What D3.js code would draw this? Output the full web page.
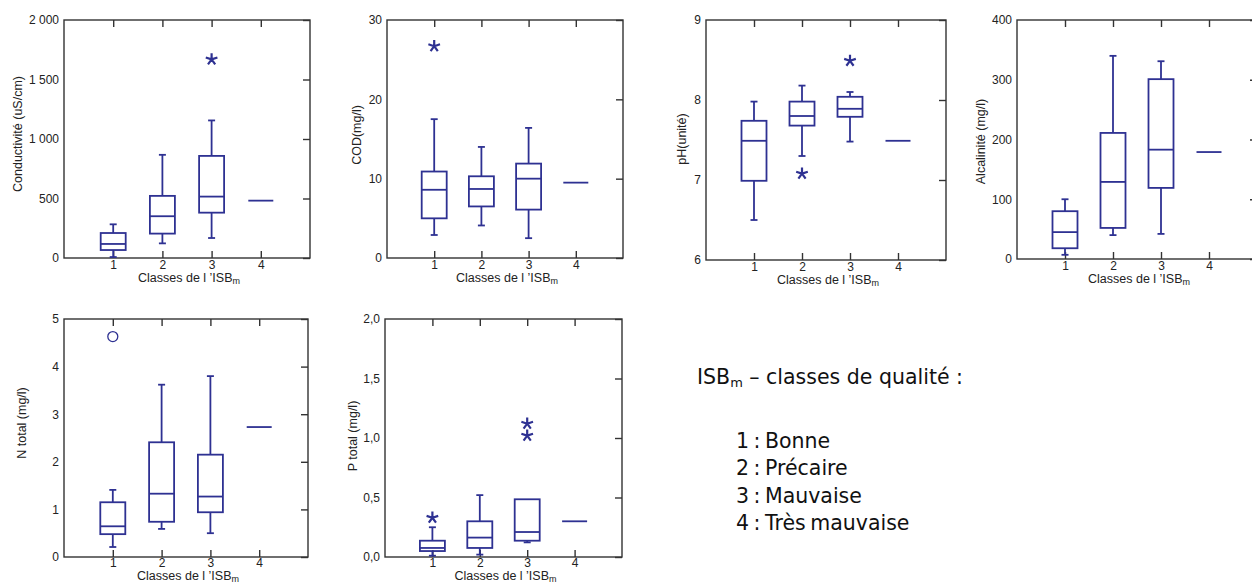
<!DOCTYPE html>
<html><head><meta charset="utf-8">
<script src="https://cdn.jsdelivr.net/npm/d3@7"></script>
<style>body{margin:0;background:#fff}svg{display:block}</style>
</head><body><svg id="c" width="1252" height="584"></svg>
<script>
// ---------- DATA ----------
const classes = [1, 2, 3, 4];
const classLabels = ["1", "2", "3", "4"];
// [min, Q1, median, Q3, max] per class
const conductivite = [[8, 67, 118, 210, 283], [123, 205, 351, 522, 867], [168, 381, 516, 858, 1156], [482, 482, 482, 482, 482]];
const conductiviteStars = [[], [], [1669], []];
const condTicks = [0, 500, 1000, 1500, 2000];
const condTickLabels = ["0", "500", "1 000", "1 500", "2 000"];

const cod = [[2.9, 5.0, 8.6, 10.9, 17.5], [4.1, 6.5, 8.7, 10.3, 14.0], [2.5, 6.1, 10.0, 11.9, 16.4], [9.5, 9.5, 9.5, 9.5, 9.5]];
const codStars = [[26.7], [], [], []];
const codTicks = [0, 10, 20, 30];
const codTickLabels = ["0", "10", "20", "30"];

const ph = [[6.5, 6.99, 7.49, 7.74, 7.98], [7.3, 7.68, 7.8, 7.98, 8.18], [7.48, 7.79, 7.89, 8.04, 8.1], [7.49, 7.49, 7.49, 7.49, 7.49]];
const phStars = [[], [7.08], [8.49], []];
const phTicks = [6, 7, 8, 9];
const phTickLabels = ["6", "7", "8", "9"];

const alcalinite = [[7, 18, 45, 80, 100], [40, 52, 129, 211, 340], [42, 119, 183, 301, 331], [179, 179, 179, 179, 179]];
const alcaliniteStars = [[], [], [], []];
const alcTicks = [0, 100, 200, 300, 400];
const alcTickLabels = ["0", "100", "200", "300", "400"];

const ntotal = [[0.21, 0.48, 0.645, 1.15, 1.41], [0.59, 0.74, 1.33, 2.41, 3.62], [0.50, 0.94, 1.27, 2.15, 3.80], [2.73, 2.73, 2.73, 2.73, 2.73]];
const ntotalStars = [[], [], [], []];
const ntotalCircles = [[4.63], [], [], []];
const nTicks = [0, 1, 2, 3, 4, 5];
const nTickLabels = ["0", "1", "2", "3", "4", "5"];

const ptotal = [[0.011, 0.05, 0.076, 0.137, 0.25], [0.02, 0.076, 0.163, 0.30, 0.52], [0.123, 0.137, 0.21, 0.485, 0.485], [0.30, 0.30, 0.30, 0.30, 0.30]];
const ptotalStars = [[0.33], [], [1.02, 1.12], []];
const pTicks = [0, 0.5, 1.0, 1.5, 2.0];
const pTickLabels = ["0,0", "0,5", "1,0", "1,5", "2,0"];

const legendTitle = "classes de qualité :";
const legendItems = ["1 : Bonne", "2 : Précaire", "3 : Mauvaise", "4 : Très mauvaise"];

// ---------- LAYOUT ----------
const BLUE = "#2e3192";
const FRAME = "#333";
const TXT = "#222";
const AXFONT = "'Liberation Sans', Arial, sans-serif";

const panels = [
  {x0: 64, x1: 310, y0: 20, y1: 258, stats: conductivite, stars: conductiviteStars, circles: null, ticks: condTicks, labels: condTickLabels, title: "Conductivité (uS/cm)", tOff: 46, tDy: -5, xt: 24, tp: 2.5},
  {x0: 387, x1: 623, y0: 20, y1: 258, stats: cod, stars: codStars, circles: null, ticks: codTicks, labels: codTickLabels, title: "COD(mg/l)", tOff: 30, tDy: -4, xt: 24, tp: 2.5},
  {x0: 706, x1: 946, y0: 20, y1: 260, stats: ph, stars: phStars, circles: null, ticks: phTicks, labels: phTickLabels, title: "pH(unité)", tOff: 24, tDy: -1, xt: 24, tp: 2},
  {x0: 1017, x1: 1257, y0: 20, y1: 259, stats: alcalinite, stars: alcaliniteStars, circles: null, ticks: alcTicks, labels: alcTickLabels, title: "Alcalinité (mg/l)", tOff: 36, tDy: 2, xt: 24, tp: 2},
  {x0: 64, x1: 308, y0: 319, y1: 557, stats: ntotal, stars: ntotalStars, circles: ntotalCircles, ticks: nTicks, labels: nTickLabels, title: "N total (mg/l)", tOff: 42, tDy: -15, xt: 23, tp: 1.5},
  {x0: 385, x1: 622, y0: 319, y1: 557, stats: ptotal, stars: ptotalStars, circles: null, ticks: pTicks, labels: pTickLabels, title: "P total (mg/l)", tOff: 32, tDy: -2, xt: 23, tp: 1.5}
];

const svg = d3.select("#c");

// five-armed asterisk symbol
const asterisk = {
  draw(ctx, size) {
    const r = Math.sqrt(size) / 2;
    for (let k = 0; k < 5; k++) {
      const a = -Math.PI / 2 + k * 2 * Math.PI / 5;
      ctx.moveTo(0, 0);
      ctx.lineTo(r * Math.cos(a), r * Math.sin(a));
    }
  }
};

function xTitle(g, cx, y) {
  const t = g.append("text").attr("x", cx).attr("y", y).attr("text-anchor", "middle")
    .attr("font-family", AXFONT).attr("font-size", 12.5).attr("fill", TXT);
  t.append("tspan").text("Classes de l ’ISB");
  t.append("tspan").attr("font-size", 9).attr("dy", 2).text("m");
}

panels.forEach(p => {
  const g = svg.append("g");
  const x = d3.scaleLinear().domain([0, 5]).range([p.x0, p.x1]);
  const y = d3.scaleLinear().domain([p.ticks[0], p.ticks[p.ticks.length - 1]]).range([p.y1, p.y0]);
  const bw = 25, cw = 7;

  g.append("rect").attr("x", p.x0).attr("y", p.y0).attr("width", p.x1 - p.x0).attr("height", p.y1 - p.y0)
    .attr("fill", "none").attr("stroke", FRAME).attr("stroke-width", 1.4);

  const la = g.append("g").attr("transform", `translate(${p.x0},0)`)
    .call(d3.axisLeft(y).tickValues(p.ticks).tickSize(0).tickPadding(5).tickFormat((d, i) => p.labels[i]));
  const ra = g.append("g").attr("transform", `translate(${p.x1},0)`)
    .call(d3.axisLeft(y).tickValues(p.ticks).tickSize(7).tickFormat(""));
  const ta = g.append("g").attr("transform", `translate(0,${p.y0})`)
    .call(d3.axisBottom(x).tickValues(classes).tickSize(7).tickFormat(""));
  const ba = g.append("g").attr("transform", `translate(0,${p.y1})`)
    .call(d3.axisTop(x).tickValues(classes).tickSize(7).tickFormat(""));
  const bl = g.append("g").attr("transform", `translate(0,${p.y1})`)
    .call(d3.axisBottom(x).tickValues(classes).tickSize(0).tickPadding(p.tp).tickFormat((d, i) => classLabels[i]));
  [la, ra, ta, ba, bl].forEach(a => {
    a.select(".domain").remove();
    a.selectAll("line").attr("stroke", FRAME).attr("stroke-width", 1.4);
    a.selectAll("text").attr("font-family", AXFONT).attr("font-size", 12).attr("fill", TXT);
  });

  const cy = (p.y0 + p.y1) / 2 + p.tDy;
  g.append("text").attr("transform", `translate(${p.x0 - p.tOff},${cy}) rotate(-90)`)
    .attr("text-anchor", "middle").attr("dy", "0.35em")
    .attr("font-family", AXFONT).attr("font-size", 12.5).attr("fill", TXT).text(p.title);

  xTitle(g, (p.x0 + p.x1) / 2 + 2, p.y1 + p.xt);

  const bx = g.append("g").attr("fill", "none").attr("stroke", BLUE).attr("stroke-width", 1.8);
  p.stats.forEach((s, i) => {
    const cx = x(classes[i]);
    const [mn, q1, md, q3, mx] = s;
    if (mx > q3) {
      bx.append("line").attr("x1", cx).attr("x2", cx).attr("y1", y(q3)).attr("y2", y(mx));
      bx.append("line").attr("x1", cx - cw / 2).attr("x2", cx + cw / 2).attr("y1", y(mx)).attr("y2", y(mx));
    }
    if (mn < q1) {
      bx.append("line").attr("x1", cx).attr("x2", cx).attr("y1", y(q1)).attr("y2", y(mn));
      bx.append("line").attr("x1", cx - cw / 2).attr("x2", cx + cw / 2).attr("y1", y(mn)).attr("y2", y(mn));
    }
    if (q3 > q1) {
      bx.append("rect").attr("x", cx - bw / 2).attr("y", y(q3)).attr("width", bw).attr("height", y(q1) - y(q3));
    }
    bx.append("line").attr("x1", cx - bw / 2).attr("x2", cx + bw / 2).attr("y1", y(md)).attr("y2", y(md));
  });

  const sym = d3.symbol().type(asterisk).size(150);
  p.stars.forEach((arr, i) => arr.forEach(v => {
    g.append("path").attr("d", sym()).attr("transform", `translate(${x(classes[i])},${y(v)})`)
      .attr("fill", "none").attr("stroke", BLUE).attr("stroke-width", 2.2);
  }));
  if (p.circles) p.circles.forEach((arr, i) => arr.forEach(v => {
    g.append("circle").attr("cx", x(classes[i])).attr("cy", y(v)).attr("r", 5)
      .attr("fill", "none").attr("stroke", BLUE).attr("stroke-width", 1.3);
  }));
});

// legend
const LFONT = "'DejaVu Sans', sans-serif";
const lt = svg.append("text").attr("x", 697).attr("y", 384).attr("font-family", LFONT)
  .attr("font-size", 20.5).attr("fill", "#111");
lt.append("tspan").text("ISB");
lt.append("tspan").attr("font-size", 13).attr("dy", 3).text("m");
lt.append("tspan").attr("dy", -3).text(" – " + legendTitle);
svg.append("g").selectAll("text").data(legendItems).join("text")
  .attr("x", 736).attr("y", (d, i) => 448 + i * 27.3)
  .attr("font-family", LFONT).attr("font-size", 20.5).attr("fill", "#111")
  .attr("word-spacing", -2)
  .text(d => d);
</script>
</body></html>
